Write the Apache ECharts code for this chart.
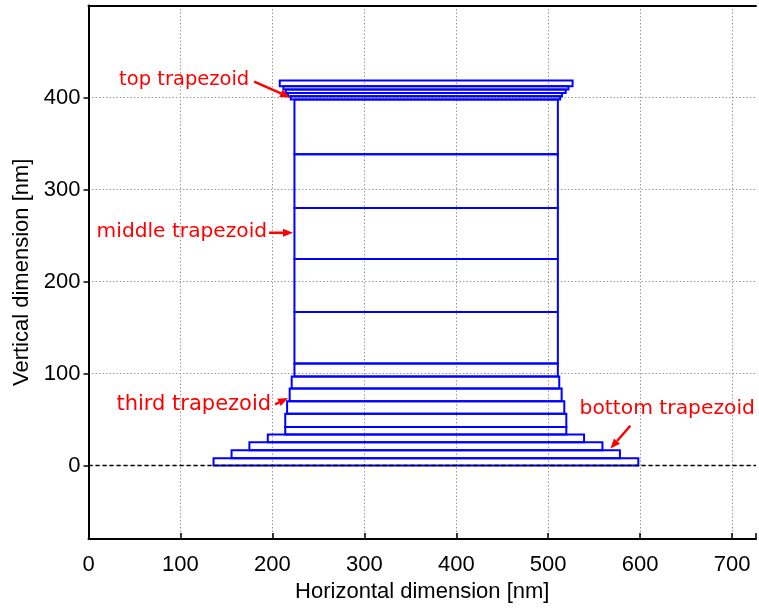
<!DOCTYPE html>
<html>
<head>
<meta charset="utf-8">
<script src="https://cdn.jsdelivr.net/npm/echarts@6/dist/echarts.min.js"></script>
<style>html,body{margin:0;padding:0;background:#fff;}#c{width:759px;height:608px;}</style>
</head>
<body>
<div id="c"></div>
<script>
// ---- data ----
const xTickLabels = [0, 100, 200, 300, 400, 500, 600, 700];
const yTickLabels = [0, 100, 200, 300, 400];
// stacked rectangles (layers), bottom to top
const rectLeft   = [136, 155.6, 175, 195, 214, 214, 216, 218.8, 221, 224, 224, 224, 224, 224, 224, 220, 217, 214.5, 212, 208];
const rectRight  = [598, 578, 559, 539, 519.7, 519.7, 517.5, 514.6, 512, 510.5, 510.5, 510.5, 510.5, 510.5, 510.5, 513, 515, 519, 522, 526.5];
const rectBottom = [0, 7.9, 16.5, 25.2, 33.8, 41.8, 56.2, 69.9, 83.6, 96.8, 111, 166.8, 224.5, 280, 338.4, 397.8, 401.4, 405, 408.6, 412.2];
const rectTop    = [7.9, 16.5, 25.2, 33.8, 41.8, 56.2, 69.9, 83.6, 96.8, 111, 166.8, 224.5, 280, 338.4, 397.8, 401.4, 405, 408.6, 412.2, 418.4];
// annotations
const annText   = ['top trapezoid', 'middle trapezoid', 'third trapezoid', 'bottom trapezoid'];
const annX      = [174.8, 194.3, 198.6, 534.1];
const annY      = [419.5, 254, 66, 61.6];
const annAlign  = ['right', 'right', 'right', 'left'];
const arrowX0   = [180.2, 196.4, 202.9, 589.3];
const arrowY0   = [417.3, 253, 66.5, 43.2];
const arrowX1   = [219.2, 222.4, 217, 567.7];
const arrowY1   = [400, 253, 73.5, 18.4];
const zeroLineY = 0;

const xMin = 0, xMax = 726, yMin = -80, yMax = 500;

const rectData = rectLeft.map((l, i) => [l, rectRight[i], rectBottom[i], rectTop[i]]);
const annData = annText.map((t, i) => [annX[i], annY[i], arrowX0[i], arrowY0[i], arrowX1[i], arrowY1[i], i]);

const annFontSize = [19.5, 20.2, 21, 20.3];

const chart = echarts.init(document.getElementById('c'), null, {renderer: 'canvas'});
const font = 'Liberation Sans, Arial, Helvetica, sans-serif';
const gridLine = {show: true, showMinLine: false, showMaxLine: false,
  lineStyle: {color: '#9a9a9a', type: [1.5, 2], width: 1}};

chart.setOption({
  animation: false,
  backgroundColor: '#fff',
  grid: {left: 88.5, right: 0, top: 5.5, bottom: 66, containLabel: false},
  xAxis: [{
    type: 'value', min: xMin, max: xMax, interval: 100,
    name: 'Horizontal dimension [nm]', nameLocation: 'middle', nameGap: 39,
    nameTextStyle: {fontFamily: font, fontSize: 22, color: '#000'},
    axisLine: {show: true, onZero: false, lineStyle: {color: '#000', width: 2}},
    axisTick: {show: true, inside: true, length: 6, lineStyle: {color: '#000', width: 1.5}},
    axisLabel: {fontFamily: font, fontSize: 22, color: '#000', margin: 15,
      formatter: v => xTickLabels.includes(v) ? String(v) : ''},
    splitLine: gridLine
  }, {
    type: 'value', position: 'top', min: xMin, max: xMax, interval: 100,
    axisLine: {show: true, onZero: false, lineStyle: {color: '#000', width: 2}},
    axisTick: {show: false}, axisLabel: {show: false}, splitLine: {show: false}
  }],
  yAxis: {
    type: 'value', min: yMin, max: yMax, splitNumber: 6,
    name: 'Vertical dimension [nm]', nameLocation: 'middle', nameGap: 44,
    nameTextStyle: {fontFamily: font, fontSize: 22, color: '#000'},
    axisLine: {show: true, onZero: false, lineStyle: {color: '#000', width: 2}},
    axisTick: {show: true, inside: false, length: 5, lineStyle: {color: '#000', width: 1.5}},
    axisLabel: {fontFamily: font, fontSize: 22, color: '#000', margin: 8,
      showMinLabel: false, showMaxLabel: false,
      formatter: v => yTickLabels.includes(v) ? String(v) : ''},
    splitLine: gridLine
  },
  series: [{
    type: 'custom',
    coordinateSystem: 'cartesian2d',
    data: rectData,
    clip: false,
    renderItem: (params, api) => {
      const p0 = api.coord([api.value(0), api.value(3)]);
      const p1 = api.coord([api.value(1), api.value(2)]);
      return {
        type: 'rect',
        shape: {x: p0[0], y: p0[1], width: p1[0] - p0[0], height: p1[1] - p0[1]},
        style: {fill: 'none', stroke: '#0000ff', lineWidth: 2}
      };
    },
    z: 3
  }, {
    type: 'line',
    data: [[xMin, zeroLineY], [xMax, zeroLineY]],
    symbol: 'none',
    lineStyle: {color: '#000', type: [4, 3], width: 1.6},
    z: 4
  }, {
    type: 'custom',
    coordinateSystem: 'cartesian2d',
    data: annData,
    clip: false,
    renderItem: (params, api) => {
      const i = api.value(6);
      const tp = api.coord([api.value(0), api.value(1)]);
      const a0 = api.coord([api.value(2), api.value(3)]);
      const a1 = api.coord([api.value(4), api.value(5)]);
      const dx = a1[0] - a0[0], dy = a1[1] - a0[1];
      const len = Math.sqrt(dx * dx + dy * dy);
      const ux = dx / len, uy = dy / len;
      const hl = 10, hw = 4;
      const bx = a1[0] - ux * hl, by = a1[1] - uy * hl;
      return {
        type: 'group',
        children: [{
          type: 'text',
          style: {x: tp[0], y: tp[1], text: annText[i], fill: '#ff0000',
            font: annFontSize[i] + 'px "DejaVu Sans", sans-serif', align: annAlign[i], verticalAlign: 'middle'}
        }, {
          type: 'line',
          shape: {x1: a0[0], y1: a0[1], x2: bx, y2: by},
          style: {stroke: '#ff0000', lineWidth: 2.5}
        }, {
          type: 'polygon',
          shape: {points: [[a1[0], a1[1]], [bx - uy * hw, by + ux * hw], [bx + uy * hw, by - ux * hw]]},
          style: {fill: '#ff0000'}
        }]
      };
    },
    z: 5
  }]
});
</script>
</body>
</html>
